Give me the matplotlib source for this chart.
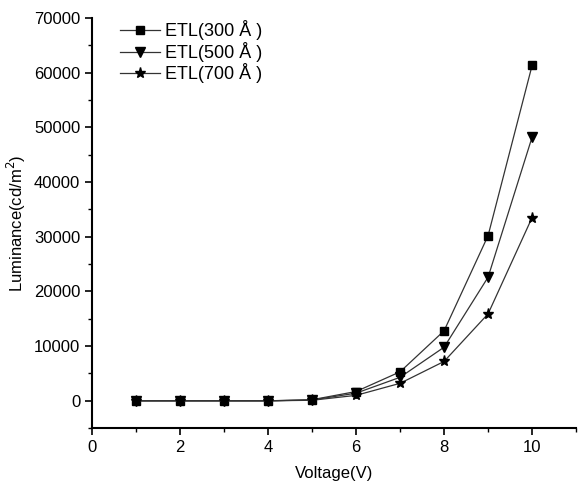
import matplotlib
matplotlib.use("Agg")
import matplotlib.pyplot as plt
from matplotlib.ticker import MultipleLocator

plt.rcParams['font.family'] = ['Liberation Sans', 'DejaVu Sans']

# =========================
# DATA
# =========================
voltage = [1, 2, 3, 4, 5, 6, 7, 8, 9, 10]
lum_300 = [0, 0, 0, 0, 200, 1700, 5300, 12800, 30200, 61300]
lum_500 = [0, 0, 0, 0, 150, 1400, 4300, 9800, 22600, 48200]
lum_700 = [0, 0, 0, 0, 100, 1000, 3200, 7200, 15900, 33500]
labels = ["ETL(300 Å )", "ETL(500 Å )", "ETL(700 Å )"]

# =========================
# PLOT
# =========================
fig = plt.figure(figsize=(5.79, 4.95), dpi=100)
ax = fig.add_axes([0.159, 0.135, 0.836, 0.829])

line_kw = dict(color='#333333', linewidth=0.9, markerfacecolor='black', markeredgecolor='black')
ax.plot(voltage, lum_300, marker='s', markersize=6, label=labels[0], **line_kw)
ax.plot(voltage, lum_500, marker='v', markersize=7, label=labels[1], **line_kw)
ax.plot(voltage, lum_700, marker='*', markersize=8, label=labels[2], **line_kw)

ax.set_xlim(0, 11)
ax.set_ylim(-5000, 70000)
ax.xaxis.set_minor_locator(MultipleLocator(1))
ax.yaxis.set_minor_locator(MultipleLocator(5000))
ax.set_xticks([0, 2, 4, 6, 8, 10])
ax.set_yticks(range(0, 70001, 10000))

for side in ['top', 'right']:
    ax.spines[side].set_visible(False)
ax.spines['left'].set_linewidth(1.5)
ax.spines['bottom'].set_linewidth(1.5)
ax.tick_params(which='major', direction='out', length=5, width=1.2, labelsize=12)
ax.tick_params(which='minor', direction='out', length=3, width=1.0)

ax.set_xlabel("Voltage(V)", fontsize=12, labelpad=8)
ax.set_ylabel("Luminance(cd/m$^2$)", fontsize=12, labelpad=4)

ax.legend(loc='upper left', bbox_to_anchor=(0.035, 1.02), frameon=False,
          fontsize=13, handlelength=2.2, handletextpad=0.3, labelspacing=0.08,
          borderaxespad=0.2)

plt.savefig("out.png", dpi=100)
plt.close()
